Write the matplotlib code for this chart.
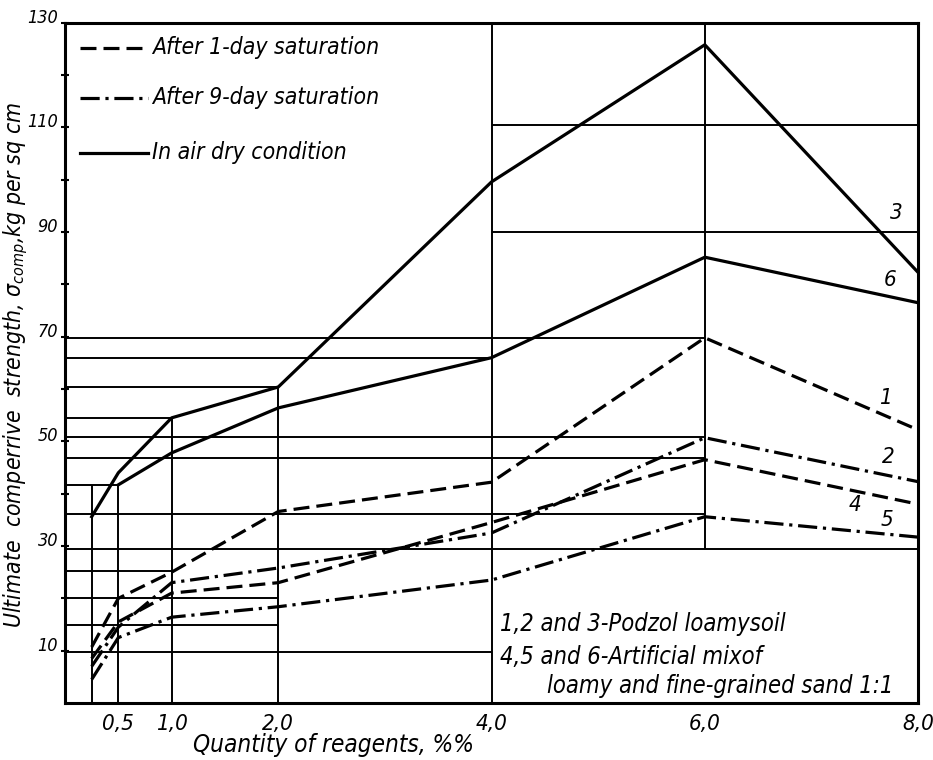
import matplotlib.pyplot as plt
from matplotlib.lines import Line2D

plt.rcParams['font.family'] = ['DejaVu Sans']
plt.rcParams['font.style'] = 'italic'
plt.rcParams['font.stretch'] = 'condensed'

# Quantity of reagents, %
x_pts = [0.25, 0.5, 1.0, 2.0, 4.0, 6.0, 8.0]
x_pts_6 = [0.5, 1.0, 2.0, 4.0, 6.0, 8.0]

# Ultimate compressive strength, kg per sq cm
curve1 = [10.7, 20.0, 25.0, 36.6, 42.2, 69.8, 52.2]   # 1-day saturation, podzol
curve2 = [7.0, 14.5, 23.0, 25.8, 32.5, 50.7, 42.3]    # 9-day saturation, podzol
curve3 = [35.6, 44.0, 54.5, 60.4, 99.6, 125.8, 82.3]  # air dry, podzol
curve4 = [8.5, 15.5, 21.0, 23.0, 34.5, 46.5, 38.0]    # 1-day saturation, mix
curve5 = [4.5, 12.5, 16.4, 18.4, 23.5, 35.6, 31.7]    # 9-day saturation, mix
curve6 = [41.7, 47.8, 56.4, 66.0, 85.2, 76.5]         # air dry, mix

curve_labels = ['1', '2', '3', '4', '5', '6']
label_x = [7.69, 7.72, 7.8, 7.41, 7.71, 7.74]
label_y = [58.3, 47.0, 93.7, 37.9, 35.0, 80.9]

# reference lines drawn to the measured points
h_vals = [110.5, 90.0, 69.8, 66.0, 60.4, 54.5, 50.9, 46.8, 41.7, 36.2, 29.5, 25.2, 20.0, 15.0, 9.8]
h_from = [4.0, 4.0, 0, 0, 0, 0, 0, 0, 0, 0, 0, 0, 0, 0, 0]
h_to = [8.0, 8.0, 6.0, 4.0, 2.0, 1.0, 6.0, 6.0, 0.5, 6.0, 8.0, 1.0, 2.0, 2.0, 4.0]
v_vals = [0.25, 0.5, 1.0, 2.0, 4.0, 6.0]
v_from = [0, 0, 0, 0, 0, 29.5]
v_to = [41.7, 41.7, 54.5, 60.4, 130, 130]

x_ticks = [0.5, 1.0, 2.0, 4.0, 6.0, 8.0]
x_ticklabels = ['0,5', '1,0', '2,0', '4,0', '6,0', '8,0']
y_ticks = [10, 30, 50, 70, 90, 110, 130]
y_minor = [20, 40, 60, 80, 100, 120]

legend_labels = ['After 1-day saturation', 'After 9-day saturation', 'In air dry condition']

notes = ['1,2 and 3-Podzol loamysoil', '4,5 and 6-Artificial mixof', 'loamy and fine-grained sand 1:1']

fig = plt.figure(figsize=(9.33, 7.6), dpi=100)
ax = fig.add_axes([0.0697, 0.075, 0.9143, 0.895])
ax.set_xlim(0, 8)
ax.set_ylim(0, 130)

# grid pieces
ax.hlines(h_vals, h_from, h_to, color='black', lw=1.4)
ax.vlines(v_vals, v_from, v_to, color='black', lw=1.4)

dash = (5, 2.2)
dashdot = (6, 1.8, 1, 1.8)
lw = 2.3
ax.plot(x_pts, curve1, color='black', lw=lw, dashes=dash)
ax.plot(x_pts, curve2, color='black', lw=lw, dashes=dashdot)
ax.plot(x_pts, curve3, color='black', lw=lw)
ax.plot(x_pts, curve4, color='black', lw=lw, dashes=dash)
ax.plot(x_pts, curve5, color='black', lw=lw, dashes=dashdot)
ax.plot(x_pts_6, curve6, color='black', lw=lw)

for lab, lx, ly in zip(curve_labels, label_x, label_y):
    ax.text(lx, ly, lab, fontsize=16, ha='center', va='center')

# legend drawn by hand, as in the original
handles = [Line2D([0.018, 0.097], [0.963, 0.963], color='black', lw=lw, dashes=dash),
           Line2D([0.018, 0.097], [0.890, 0.890], color='black', lw=lw, dashes=dashdot),
           Line2D([0.018, 0.097], [0.809, 0.809], color='black', lw=lw)]
for h, lab in zip(handles, legend_labels):
    h.set_transform(ax.transAxes)
    ax.add_line(h)
    ax.text(0.102, h.get_ydata()[0], lab, transform=ax.transAxes,
            fontsize=16.5, va='center', ha='left')

# notes in the lower right box
ax.text(4.08, 15.1, notes[0], fontsize=17, va='center', ha='left')
ax.text(4.08, 8.8, notes[1], fontsize=17, va='center', ha='left')
ax.text(4.52, 3.3, notes[2], fontsize=17, va='center', ha='left')

for s in ax.spines.values():
    s.set_linewidth(2.2)

ax.set_xticks(x_ticks)
ax.set_xticklabels(x_ticklabels)
ax.set_yticks(y_ticks)
ax.set_yticks(y_minor, minor=True)
ax.tick_params(axis='x', length=0, pad=8, labelsize=16)
ax.tick_params(axis='y', which='both', direction='inout', length=6, width=1.5, pad=2, labelsize=13)
for t in ax.get_yticklabels():
    t.set_va('baseline')

fig.text(0.017, 0.52, r'Ultimate  comperrive  strength, $\mathit{\sigma_{comp}}$,kg per sq cm',
         rotation=90, ha='center', va='center', fontsize=16.5)
fig.text(0.357, 0.02, 'Quantity of reagents, %%', ha='center', va='center', fontsize=17.5)

fig.savefig('out.png', dpi=100)
